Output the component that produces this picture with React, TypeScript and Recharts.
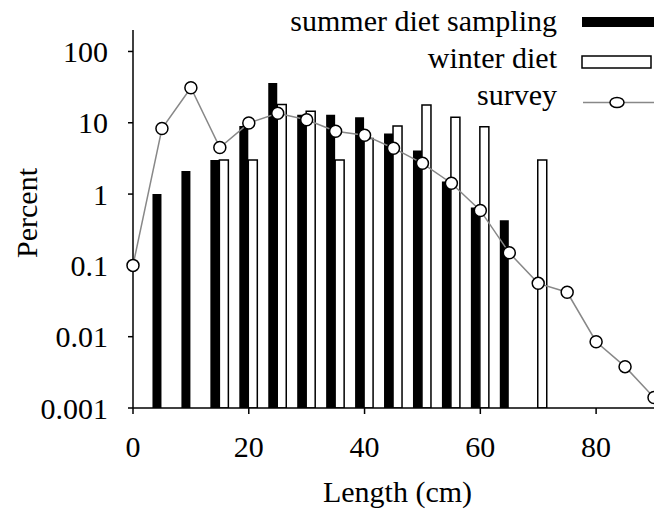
import React from 'react';
import { ComposedChart, Bar, Line, XAxis, YAxis, Legend } from 'recharts';

const FONT = 'Liberation Serif';
const textStyle = { fontFamily: FONT, fontSize: 30 };

// length classes (cm) with diet samples
const barLengths = [5, 10, 15, 20, 25, 30, 35, 40, 45, 50, 55, 60, 65, 70];
const summerDiet = [1.0, 2.1, 3.0, 9, 36, 13, 13, 12, 7.1, 4.1, 1.5, 0.65, 0.43, null];
const winterDiet = [null, null, 3.0, 3.0, 18, 14.5, 3.0, 6, 9, 17.7, 12, 8.8, null, 3.0];

// survey length frequency
const surveyLengths = [0, 5, 10, 15, 20, 25, 30, 35, 40, 45, 50, 55, 60, 65, 70, 75, 80, 85, 90];
const surveyPercent = [0.1, 8.3, 31, 4.5, 9.9, 13.6, 11, 7.6, 6.7, 4.4, 2.7, 1.42, 0.59, 0.15, 0.056, 0.042, 0.0085, 0.0038, 0.0014];

const xTicks = [0, 20, 40, 60, 80];
const yTicks = [0.001, 0.01, 0.1, 1, 10, 100];

const seriesNames = ['summer diet sampling', 'winter diet', 'survey'];

const barRows = barLengths.map((x, i) => ({ x, summer: summerDiet[i], winter: winterDiet[i] }));
const surveyRows = surveyLengths.map((x, i) => ({ x, percent: surveyPercent[i] }));

const tickStyle = { fontSize: 30, fontFamily: FONT, fill: '#000', style: textStyle };

function LegendBox() {
  const textProps = { fill: '#000', textAnchor: 'end' as const, style: textStyle };
  return (
    <svg width={654} height={120} style={{ display: 'block' }}>
      <text x={557} y={31} {...textProps}>{seriesNames[0]}</text>
      <rect x={582} y={17} width={72} height={10} fill="#000" />
      <text x={557} y={68} {...textProps}>{seriesNames[1]}</text>
      <rect x={582} y={56} width={69} height={12} fill="#fff" stroke="#000" strokeWidth={1.5} />
      <text x={557} y={105} {...textProps}>{seriesNames[2]}</text>
      <line x1={583} x2={654} y1={102.5} y2={102.5} stroke="#888" strokeWidth={1.5} />
      <ellipse cx={617} cy={102.5} rx={7} ry={5} fill="#fff" stroke="#000" strokeWidth={1.5} />
    </svg>
  );
}

function YTitle(props: any) {
  const vb = props.viewBox;
  const x = vb.x + 37;
  const y = vb.y + vb.height / 2 - 6;
  return (
    <text x={x} y={y} transform={`rotate(-90, ${x}, ${y})`} textAnchor="middle" fill="#000" style={textStyle}>
      Percent
    </text>
  );
}

function XTitle(props: any) {
  const vb = props.viewBox;
  return (
    <text x={vb.x + vb.width / 2 + 4} y={vb.y + 94} textAnchor="middle" fill="#000" style={textStyle}>
      Length (cm)
    </text>
  );
}

export default function App() {
  return (
    <div style={{ position: 'absolute', left: 0, top: 0, width: 654, height: 512, background: '#fff', fontFamily: FONT }}>
      <ComposedChart width={654} height={512} data={barRows} margin={{ top: 30, right: 0, left: 0, bottom: 0 }} barGap={0} style={{ fontFamily: FONT }}>
        <XAxis
          dataKey="x"
          type="number"
          domain={[0, 90]}
          ticks={xTicks}
          interval={0}
          height={104}
          tickSize={6}
          tickMargin={22}
          tick={tickStyle}
          axisLine={{ stroke: '#000', strokeWidth: 1.5 }}
          tickLine={{ stroke: '#000', strokeWidth: 1.5 }}
          label={<XTitle />}
        />
        <YAxis
          type="number"
          scale="log"
          domain={[0.001, 200]}
          allowDataOverflow
          ticks={yTicks}
          interval={0}
          width={133}
          tickSize={5}
          tickMargin={20}
          tick={tickStyle}
          axisLine={{ stroke: '#000', strokeWidth: 1.5 }}
          tickLine={{ stroke: '#000', strokeWidth: 1.5 }}
          label={<YTitle />}
        />
        <Legend layout="horizontal" verticalAlign="middle" align="center" wrapperStyle={{ top: 0, left: 0, width: 654, height: 120 }} content={() => <LegendBox />} />
        <Bar dataKey="summer" name={seriesNames[0]} fill="#000" barSize={9} isAnimationActive={false} />
        <Bar dataKey="winter" name={seriesNames[1]} fill="#fff" stroke="#000" strokeWidth={1.5} barSize={9} isAnimationActive={false} />
        <Line
          data={surveyRows}
          dataKey="percent"
          name={seriesNames[2]}
          type="linear"
          stroke="#888"
          strokeWidth={1.5}
          dot={{ r: 6, fill: '#fff', stroke: '#000', strokeWidth: 1.5 }}
          isAnimationActive={false}
        />
      </ComposedChart>
    </div>
  );
}
